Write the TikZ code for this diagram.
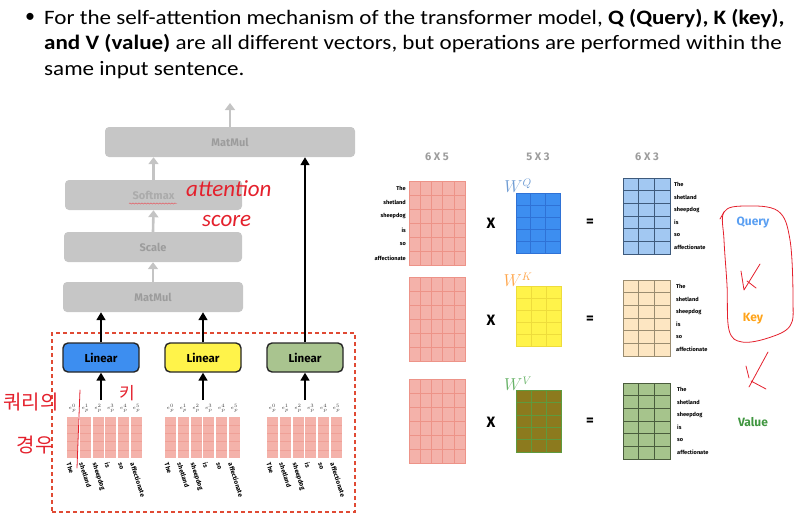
\documentclass[tikz,border=0pt]{standalone}
\usepackage{fontspec}
\setmainfont{Carlito}
\newfontfamily\topfont[FakeStretch=1.125]{Carlito}
\newfontfamily\dfont{Fira Sans}
\newfontfamily\kfont{Noto Sans CJK KR}
\usetikzlibrary{arrows.meta,decorations.pathmorphing}
\definecolor{gbox}{HTML}{C6C6C6}
\definecolor{gtxt}{HTML}{9C9C9C}
\definecolor{garr}{HTML}{C4C4C4}
\definecolor{qblue}{HTML}{3D8EF0}
\definecolor{qline}{HTML}{2F72D6}
\definecolor{kyel}{HTML}{FFF34A}
\definecolor{kline}{HTML}{EEDC3C}
\definecolor{vgrn}{HTML}{A9C48F}
\definecolor{olive}{HTML}{8C7A1E}
\definecolor{oline}{HTML}{5E9A3E}
\definecolor{pinkf}{HTML}{F4B2AA}
\definecolor{pinkl}{HTML}{E8786A}
\definecolor{rblue}{HTML}{A2C8F2}
\definecolor{rbline}{HTML}{3E5A7C}
\definecolor{beige}{HTML}{FDE6C2}
\definecolor{bline}{HTML}{9A8C70}
\definecolor{rgreen}{HTML}{A6C48C}
\definecolor{rgline}{HTML}{4A5C3C}
\definecolor{hred}{HTML}{E4202C}
\definecolor{dred}{HTML}{E04A34}
\newcommand\mygrid[8]{%
  \fill[#7] (#1,#2) rectangle (#3,#4);
  \pgfmathtruncatemacro\myncols{#5-1}%
  \pgfmathtruncatemacro\mynrows{#6-1}%
  \foreach \i in {1,...,\myncols}{\draw[#8] ({#1+(#3-#1)*\i/#5},#2) -- ({#1+(#3-#1)*\i/#5},#4);}
  \foreach \j in {1,...,\mynrows}{\draw[#8] (#1,{#2+(#4-#2)*\j/#6}) -- (#3,{#2+(#4-#2)*\j/#6});}
  \draw[#8] (#1,#2) rectangle (#3,#4);
}
\newcommand\myvecs[1]{%
  \foreach \j in {0,...,5}{
    \pgfmathsetmacro\cx{#1+12.8*\j}
    \fill[pinkf] (\cx,417) rectangle (\cx+11,458);
    \foreach \r in {1,2,3,4}{\draw[pinkl!70,line width=0.5pt] (\cx,417+8.2*\r) -- (\cx+11,417+8.2*\r);}
    \node[elab] at (\cx+5.5,408) {$e_p^{\j}$};
  }
  \foreach \w [count=\k from 0] in {The,shetland,sheepdog,is,so,affectionate}{
    \node[wordlab] at (#1+12.8*\k+1.5,463) {\w};
  }
}
\begin{document}
\begin{tikzpicture}[x=1pt,y=-1pt,
  graybox/.style={fill=gbox, rounded corners=4pt, inner sep=0pt, font=\dfont\bfseries\fontsize{11}{13}\selectfont, text=gtxt},
  linbox/.style={draw=black!85, line width=1.4pt, rounded corners=5pt, inner sep=0pt, minimum width=76pt, minimum height=29pt, font=\dfont\bfseries\fontsize{11.5}{13}\selectfont},
  garrow/.style={draw=garr, line width=2.6pt, -{Triangle[width=10pt,length=7pt]}},
  barrow/.style={draw=black, line width=1.6pt, -{Triangle[width=9pt,length=8pt]}},
  elab/.style={font=\fontsize{5.2}{6}\selectfont, text=black!75, inner sep=0pt},
  wordlab/.style={font=\dfont\bfseries\fontsize{6.3}{7}\selectfont, rotate=-72, anchor=west, inner sep=0pt},
  mlab/.style={font=\dfont\bfseries\fontsize{5.6}{6}\selectfont, inner sep=0pt},
  dimlab/.style={font=\dfont\bfseries\fontsize{11}{12}\selectfont, text=gtxt},
  oplab/.style={font=\dfont\bfseries\fontsize{15}{16}\selectfont},
  wlab/.style={font=\fontsize{16}{18}\selectfont},
  qkv/.style={font=\dfont\bfseries\fontsize{12}{14}\selectfont},
  toptxt/.style={anchor=base west, inner sep=0, font=\topfont\fontsize{20.5}{24}\selectfont},
  hand/.style={text=hred, font=\itshape\fontsize{23}{24}\selectfont, inner sep=0pt},
  kor/.style={text=hred, font=\kfont\fontsize{20}{22}\selectfont, inner sep=0pt},
  hstroke/.style={draw=hred, line width=0.8pt, line cap=round, line join=round}
]
\useasboundingbox (0,0) rectangle (808,514);
% ---- top text
\node[anchor=base, inner sep=0, font=\fontsize{20}{23}\selectfont] (bul) at (30,23) {•};
\node[toptxt] (l1) at (44,24) {For the self-attention mechanism of the transformer model, \textbf{Q (Query), K (key),}};
\node[toptxt] (l2) at (44,49.5) {\textbf{and V (value)} are all different vectors, but operations are performed within the};
\node[toptxt] (l3) at (44,75) {same input sentence.};
% ---- left diagram
\node[graybox, minimum width=250pt, minimum height=30pt] (mm2) at (230,142) {MatMul};
\node[graybox, minimum width=177pt, minimum height=30pt, text=gtxt!85] (soft) at (153.5,195) {Softmax};
\node[graybox, minimum width=178pt, minimum height=30pt] (scale) at (153,247) {Scale};
\node[graybox, minimum width=180pt, minimum height=30pt] (mm1) at (153,297) {MatMul};
\coordinate (out) at (230,103);
\draw[garrow] (mm2.north) -- (out);
\draw[garrow] (soft.north) -- (soft.north |- mm2.south);
\draw[garrow] (scale.north) -- (soft.south);
\draw[garrow] (mm1.north) -- (scale.south);
\draw[draw=hred!80, line width=0.4pt, decorate, decoration={snake, amplitude=0.6pt, segment length=3pt}] (129,203.5) -- (177,203.5);

\node[draw=dred, dashed, dash pattern=on 4pt off 3pt, line width=1.6pt, minimum width=303pt, minimum height=179pt, inner sep=0] (enc) at (203.5,422.5) {};
\node[linbox, fill=qblue] (linq) at (101,357.5) {Linear};
\node[linbox, fill=kyel] (link) at (203,357.5) {Linear};
\node[linbox, fill=vgrn] (linv) at (305,357.5) {Linear};
\draw[barrow] (linq.north) -- (linq.north |- mm1.south);
\draw[barrow] (link.north) -- (link.north |- mm1.south);
\draw[barrow] (linv.north) -- (linv.north |- mm2.south);
\coordinate (inq) at (101,400);
\coordinate (ink) at (203,400);
\coordinate (inv) at (305,400);
\draw[barrow] (inq) -- (linq.south);
\draw[barrow] (ink) -- (link.south);
\draw[barrow] (inv) -- (linv.south);
\myvecs{67}
\myvecs{165}
\myvecs{267}

% ---- matrices
\node[dimlab] (d1) at (437,157) {6 X 5};
\node[dimlab] (d2) at (538,157) {5 X 3};
\node[dimlab] (d3) at (647,157) {6 X 3};
\mygrid{409}{181}{465}{265}{5}{6}{pinkf}{pinkl!80,line width=0.6pt}
\mygrid{409}{277}{465}{361}{5}{6}{pinkf}{pinkl!80,line width=0.6pt}
\mygrid{409}{379}{465}{463}{5}{6}{pinkf}{pinkl!80,line width=0.6pt}
\foreach \w [count=\k from 0] in {The,shetland,sheepdog,is,so,affectionate}{
  \node[mlab, anchor=east] at (406,188+14*\k) {\w};
}
\mygrid{516}{193}{560}{253}{3}{5}{qblue}{qline,line width=0.6pt}
\mygrid{516}{286}{561}{346}{3}{5}{kyel}{kline,line width=0.6pt}
\mygrid{516}{390}{561}{452}{3}{5}{olive}{oline,line width=0.6pt}
\node[wlab, text=qblue!80!black!70!white] (wq) at (518,186) {$W^{Q}$};
\node[wlab, text=orange!70!white] (wk) at (518,280) {$W^{K}$};
\node[wlab, text=green!50!black!60!white] (wv) at (518,384) {$W^{V}$};
\node[oplab] (x1) at (491,223) {X};
\node[oplab] (x2) at (491,320) {X};
\node[oplab] (x3) at (491,422) {X};
\node[oplab] (e1) at (590,223) {=};
\node[oplab] (e2) at (590,320) {=};
\node[oplab] (e3) at (590,422) {=};
\mygrid{623}{178}{670}{254}{3}{6}{rblue}{rbline,line width=0.6pt}
\mygrid{623}{280}{670}{356}{3}{6}{beige}{bline,line width=0.6pt}
\mygrid{623}{383}{670}{459}{3}{6}{rgreen}{rgline,line width=0.6pt}
\foreach \w [count=\k from 0] in {The,shetland,sheepdog,is,so,affectionate}{
  \node[mlab, anchor=west] at (674,184.3+12.67*\k) {\w};
  \node[mlab, anchor=west] at (676,286.3+12.67*\k) {\w};
  \node[mlab, anchor=west] at (677,389.3+12.67*\k) {\w};
}
\node[qkv, text=qblue!85!white] (query) at (753,223) {Query};
\node[qkv, text=orange!80!yellow!90!white] (key) at (753,319) {Key};
\node[qkv, text=green!45!black!75!white] (value) at (753,422) {Value};

% ---- handwriting
\node[hand, anchor=west] (att) at (186,189) {attention};
\node[hand, anchor=west] (score) at (202,221) {score};
\node[kor] (k1) at (31,402) {쿼리의};
\node[kor] (k2) at (35,445) {경우};
\node[kor, font=\kfont\fontsize{17}{18}\selectfont] (k3) at (127,393) {키};
\draw[hstroke] (80,390) -- (77,468);
\draw[hstroke] plot[smooth cycle, tension=0.6] coordinates {(724,212) (745,206) (778,211) (790,240) (793,300) (790,326) (768,338) (742,342) (729,330) (727,285) (724,240)};
\draw[hstroke] (720,219) -- (724,212);
\draw[hstroke] (741,271) .. controls (742,280) .. (744,290) -- (760,264);
\draw[hstroke] (747,281) -- (756,288);
\draw[hstroke] (746,366) -- (749,378);
\draw[hstroke] (768,352) -- (749,387);
\draw[hstroke] (751,381) -- (766,389);
\end{tikzpicture}
\end{document}
